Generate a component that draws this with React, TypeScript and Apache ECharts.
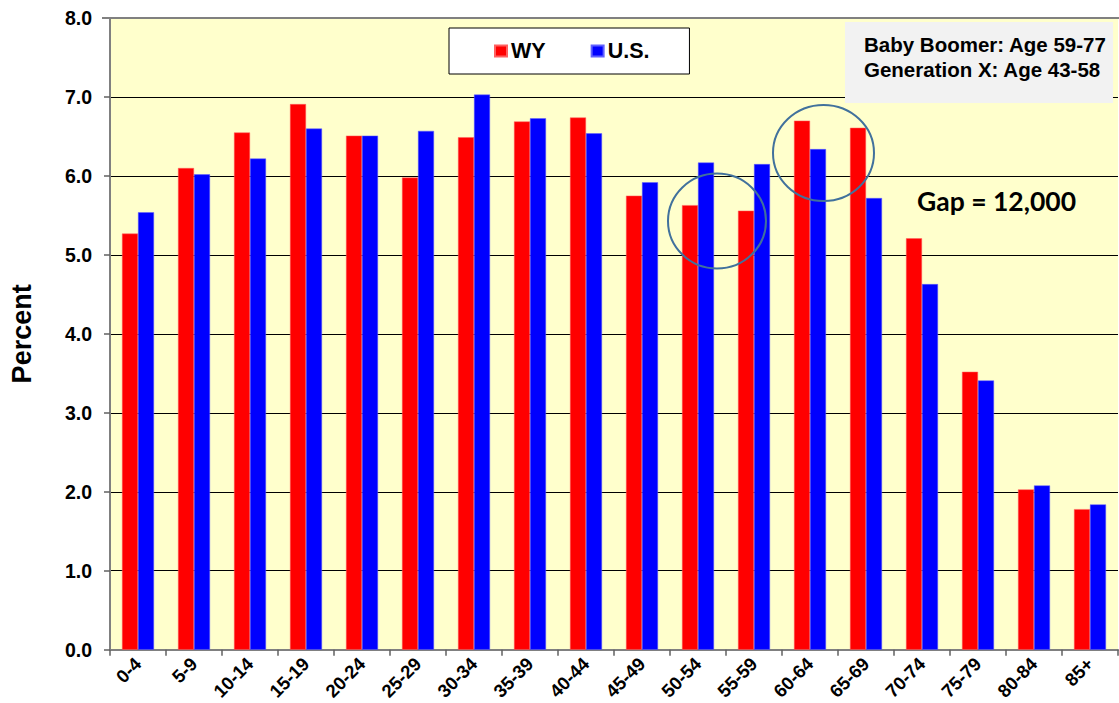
import React, { useEffect, useRef } from "react";
import * as echarts from "echarts";

const categories = ["0-4", "5-9", "10-14", "15-19", "20-24", "25-29", "30-34", "35-39", "40-44", "45-49", "50-54", "55-59", "60-64", "65-69", "70-74", "75-79", "80-84", "85+"];
const wyValues = [5.27, 6.10, 6.55, 6.91, 6.51, 5.98, 6.49, 6.69, 6.74, 5.75, 5.63, 5.56, 6.70, 6.61, 5.21, 3.52, 2.03, 1.78];
const usValues = [5.54, 6.02, 6.22, 6.60, 6.51, 6.57, 7.03, 6.73, 6.54, 5.92, 6.17, 6.15, 6.34, 5.72, 4.63, 3.41, 2.08, 1.84];
const infoLines = ["Baby Boomer: Age 59-77", "Generation X: Age 43-58"];
const gapText = "Gap = 12,000";

const FONT = "'Liberation Sans', Arial, sans-serif";

export default function App() {
  const ref = useRef<HTMLDivElement>(null);
  useEffect(() => {
    if (!ref.current) return;
    const chart = echarts.init(ref.current, null, { renderer: "svg" });
    chart.setOption({
      animation: false,
      backgroundColor: "#ffffff",
      textStyle: { fontFamily: FONT },
      grid: {
        left: 108, right: 1, top: 18, bottom: 51,
        show: true, backgroundColor: "#FFFFCC", borderWidth: 0,
      },
      legend: {
        left: 449, top: 28,
        data: ["WY", "U.S."],
        itemWidth: 12, itemHeight: 11, itemGap: 45,
        padding: [12, 40, 12, 45],
        backgroundColor: "#ffffff", borderColor: "#000000", borderWidth: 1,
        textStyle: { fontFamily: FONT, fontWeight: "bold", fontSize: 21.5, color: "#000", padding: [0, 0, 0, -1] },
        icon: "rect",
      },
      xAxis: {
        type: "category",
        data: categories,
        axisLine: { lineStyle: { color: "#808080", width: 2 } },
        axisTick: { show: true, length: 6, lineStyle: { color: "#606060", width: 1.5 } },
        axisLabel: { rotate: 45, fontFamily: FONT, fontWeight: "bold", fontSize: 18.5, color: "#000", margin: 11, interval: 0 },
      },
      yAxis: {
        type: "value",
        min: 0, max: 8, interval: 1,
        name: "Percent",
        nameLocation: "middle",
        nameGap: 75,
        nameRotate: 90,
        nameTextStyle: { fontFamily: FONT, fontWeight: "bold", fontSize: 27, color: "#000" },
        axisLine: { show: true, lineStyle: { color: "#808080", width: 2 } },
        axisTick: { show: true, length: 6, lineStyle: { color: "#606060", width: 1.5 } },
        axisLabel: { formatter: (v: number) => v.toFixed(1), fontFamily: FONT, fontWeight: "bold", fontSize: 19.5, color: "#000", margin: 18 },
        splitLine: { show: true, lineStyle: { color: "#000000", width: 1 } },
      },
      series: [
        { name: "WY", type: "bar", data: wyValues, barWidth: 16, barGap: "0%", itemStyle: { color: "#FF0000", borderColor: "#ff6060", borderWidth: 0.5 } },
        { name: "U.S.", type: "bar", data: usValues, barWidth: 16, barGap: "0%", itemStyle: { color: "#0000FF", borderColor: "#6060ff", borderWidth: 0.5 } },
      ],
      graphic: [
        { type: "line", shape: { x1: 102, y1: 18, x2: 1119, y2: 18 }, style: { stroke: "#808080", lineWidth: 2 }, z: 10 },
        { type: "rect", shape: { x: 845, y: 22, width: 268, height: 81 }, style: { fill: "#F2F2F2" }, z: 10 },
        { type: "text", x: 864, y: 44, style: { text: infoLines[0], font: `bold 20.5px ${FONT}`, fill: "#000", verticalAlign: "middle" }, z: 11 },
        { type: "text", x: 864, y: 69, style: { text: infoLines[1], font: `bold 20.5px ${FONT}`, fill: "#000", verticalAlign: "middle" }, z: 11 },
        { type: "ellipse", shape: { cx: 717, cy: 221, rx: 49, ry: 47.5 }, style: { fill: "none", stroke: "#41719C", lineWidth: 2 }, z: 10 },
        { type: "ellipse", shape: { cx: 823.5, cy: 153, rx: 50.5, ry: 48 }, style: { fill: "none", stroke: "#41719C", lineWidth: 2 }, z: 10 },
        { type: "text", x: 917, y: 201, style: { text: gapText, font: `bold 26.5px Lato, 'Open Sans', sans-serif`, fill: "#000", verticalAlign: "middle" }, z: 11 },
      ],
    });
    return () => chart.dispose();
  }, []);
  return <div ref={ref} style={{ position: "fixed", left: 0, top: 0, width: 1119, height: 703 }} />;
}
